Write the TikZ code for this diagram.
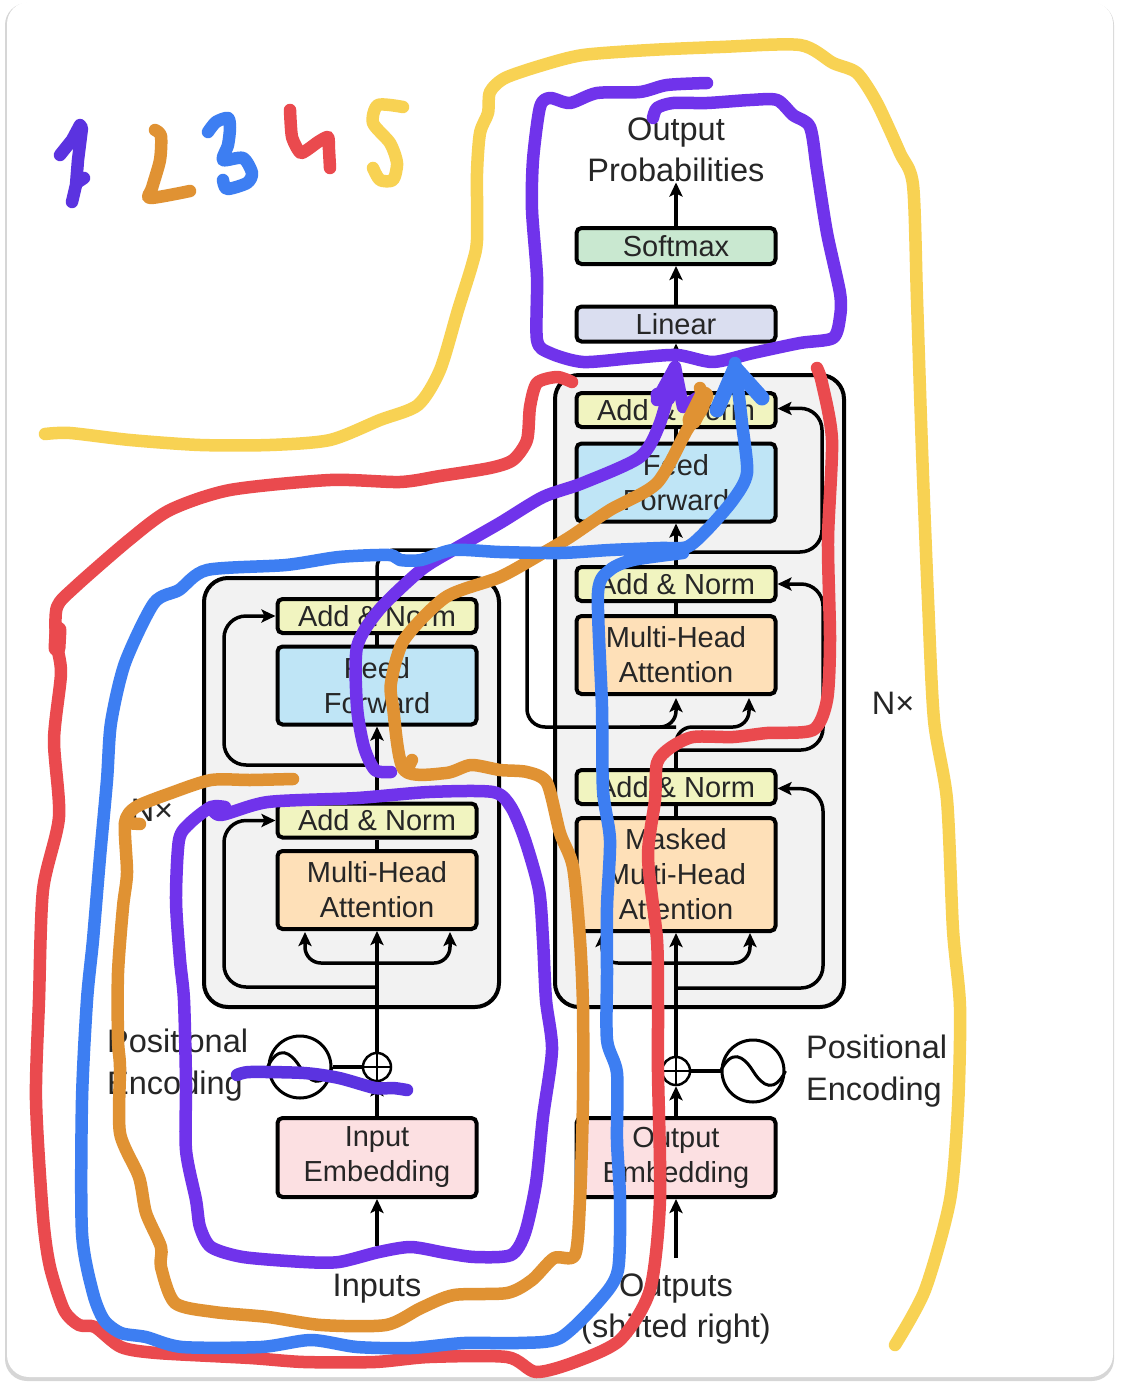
\documentclass[tikz,border=0pt]{standalone}
\usepackage{fontspec}
\setmainfont{Liberation Sans}
\usetikzlibrary{arrows.meta,positioning}
\definecolor{penviolet}{HTML}{7033EB}
\definecolor{penindigo}{HTML}{5B33E0}
\definecolor{penorange}{HTML}{E09233}
\definecolor{penblue}{HTML}{3D7EF2}
\definecolor{penred}{HTML}{EA4A4E}
\definecolor{penyellow}{HTML}{F8D253}
\begin{document}
\begin{tikzpicture}[x=1pt,y=-1pt]
\tikzset{
  layerbox/.style={rectangle,draw=black,line width=4pt,rounded corners=5pt,minimum width=199pt,inner sep=0pt,align=center,text=black!85,font=\fontsize{29}{35}\selectfont},
  addnorm/.style={layerbox,fill={rgb,255:red,241;green,244;blue,192},minimum height=34pt},
  feedbox/.style={layerbox,fill={rgb,255:red,191;green,229;blue,246},minimum height=78pt},
  attnbox/.style={layerbox,fill={rgb,255:red,254;green,224;blue,184},minimum height=78pt},
  embedbox/.style={layerbox,fill={rgb,255:red,252;green,224;blue,226},minimum height=79pt},
  softbox/.style={layerbox,fill={rgb,255:red,201;green,232;blue,208},minimum height=36pt},
  linearbox/.style={layerbox,fill={rgb,255:red,218;green,222;blue,240},minimum height=35pt},
  blockbox/.style={rectangle,draw=black,line width=4pt,rounded corners=24pt,fill={rgb,255:red,242;green,242;blue,242},inner sep=0pt},
  plusnode/.style={circle,draw=black,fill=white,line width=2.5pt,minimum size=28pt,inner sep=0pt},
  sinenode/.style={circle,draw=black,fill=white,line width=3pt,minimum size=62pt,inner sep=0pt},
  plainlabel/.style={inner sep=0pt,align=center,text=black!85,font=\fontsize{32.5}{41.5}\selectfont},
  flow/.style={draw=black,line width=3.5pt,line join=round,-{Stealth[length=14pt,width=13pt,inset=3pt]}},
  wire/.style={draw=black,line width=3.5pt,line join=round},
  pen/.style={line width=12.5pt,line cap=round,line join=round}
}
\useasboundingbox (0,0) rectangle (1120,1386);
\fill[black!16,rounded corners=22pt] (5,3) rectangle (1114,1381);
\fill[white,rounded corners=22pt] (7,2) rectangle (1113,1377);
\node[blockbox,minimum width=295pt,minimum height=429pt] (n_enc_block) at (351.5,792.5) {};
\node[blockbox,minimum width=289pt,minimum height=632pt] (n_dec_block) at (699.5,691) {};
\node[linearbox] (n_linear) at (676,324) {Linear};
\node[softbox] (n_softmax) at (676,246) {Softmax};
\node[plainlabel] (n_probs) at (676,150) {Output\\Probabilities};
\node[addnorm] (n_dec_add3) at (676,410) {Add \& Norm};
\node[feedbox] (n_dec_ff) at (676,482.5) {Feed\\Forward};
\node[addnorm] (n_dec_add2) at (676,584) {Add \& Norm};
\node[attnbox] (n_dec_attn) at (676,655) {Multi-Head\\Attention};
\node[addnorm] (n_dec_add1) at (676,787) {Add \& Norm};
\node[attnbox,minimum height=113pt] (n_dec_mask) at (676,874.5) {Masked\\Multi-Head\\Attention};
\node[embedbox] (n_dec_embed) at (676,1157.5) {Output\\Embedding};
\node[plusnode] (n_dec_plus) at (676,1071) {};
\node[sinenode] (n_dec_sine) at (753,1071) {};
\node[plainlabel,anchor=west,align=left] (n_dec_pos) at (806,1071) {Positional\\Encoding};
\node[plainlabel] (n_dec_nx) at (893,703) {N×};
\node[plainlabel] (n_outputs) at (676,1309) {Outputs\\(shifted right)};
\node[addnorm] (n_enc_add2) at (377,616) {Add \& Norm};
\node[feedbox] (n_enc_ff) at (377,685.5) {Feed\\Forward};
\node[addnorm] (n_enc_add1) at (377,820.5) {Add \& Norm};
\node[attnbox] (n_enc_attn) at (377,890) {Multi-Head\\Attention};
\node[embedbox] (n_enc_embed) at (377,1157.5) {Input\\Embedding};
\node[plusnode] (n_enc_plus) at (377,1067) {};
\node[sinenode] (n_enc_sine) at (300,1067) {};
\node[plainlabel,anchor=west,align=left] (n_enc_pos) at (107,1065) {Positional\\Encoding};
\node[plainlabel] (n_enc_nx) at (152,810) {N×};
\node[plainlabel] (n_inputs) at (377,1289) {Inputs};
\coordinate (c_in_start) at (377,1246);
\coordinate (c_out_start) at (676,1258);
\coordinate (c_enc_split) at (377,963);
\coordinate (c_enc_skip1) at (377,987);
\coordinate (c_enc_skip2) at (377,765);
\coordinate (c_enc_key) at (305,932);
\coordinate (c_enc_query) at (450,932);
\coordinate (c_dec_split) at (676,963);
\coordinate (c_dec_skip1) at (676,988);
\coordinate (c_dec_skip2) at (676,750);
\coordinate (c_dec_skip3) at (676,552);
\coordinate (c_dec_key) at (602,933);
\coordinate (c_dec_query) at (750,933);
\coordinate (c_mem_top) at (377,550);
\coordinate (c_mem_tip) at (676,698);
\coordinate (c_out_tip) at (749,698);
\draw[flow] (c_in_start) -- (n_enc_embed);
\draw[flow] (n_enc_embed) -- (n_enc_plus);
\draw[wire] (n_enc_sine) -- (n_enc_plus);
\draw[flow] (n_enc_plus) -- (n_enc_attn);
\draw[flow,rounded corners=16pt] (c_enc_split) -- (305,963) -- (c_enc_key);
\draw[flow,rounded corners=16pt] (c_enc_split) -- (450,963) -- (c_enc_query);
\draw[flow,rounded corners=22pt] (c_enc_skip1) -- (224,987) -- (224,820.5) -- (n_enc_add1);
\draw[wire] (n_enc_attn) -- (n_enc_add1);
\draw[flow] (n_enc_add1) -- (n_enc_ff);
\draw[flow,rounded corners=22pt] (c_enc_skip2) -- (224,765) -- (224,616) -- (n_enc_add2);
\draw[wire] (n_enc_ff) -- (n_enc_add2);
\draw[wire,rounded corners=18pt] (n_enc_add2) -- (c_mem_top) -- (527,550) -- (527,727) -- (676,727);
\draw[flow,rounded corners=16pt] (640,727) -- (676,727) -- (c_mem_tip);
\draw[flow] (c_out_start) -- (n_dec_embed);
\draw[flow] (n_dec_embed) -- (n_dec_plus);
\draw[wire] (n_dec_sine) -- (n_dec_plus);
\draw[flow] (n_dec_plus) -- (n_dec_mask);
\draw[flow,rounded corners=16pt] (c_dec_split) -- (602,963) -- (c_dec_key);
\draw[flow,rounded corners=16pt] (c_dec_split) -- (750,963) -- (c_dec_query);
\draw[flow,rounded corners=22pt] (c_dec_skip1) -- (823,988) -- (823,789) -- (n_dec_add1);
\draw[wire] (n_dec_mask) -- (n_dec_add1);
\draw[wire] (n_dec_add1) -- (c_dec_skip2);
\draw[flow,rounded corners=22pt] (c_dec_skip2) -- (823,750) -- (823,584) -- (n_dec_add2);
\draw[flow,rounded corners=16pt] (c_dec_skip2) -- (676,727) -- (749,727) -- (c_out_tip);
\draw[wire] (n_dec_attn) -- (n_dec_add2);
\draw[flow] (n_dec_add2) -- (n_dec_ff);
\draw[flow,rounded corners=22pt] (c_dec_skip3) -- (822,552) -- (822,408) -- (n_dec_add3);
\draw[wire] (n_dec_ff) -- (n_dec_add3);
\draw[flow] (n_dec_add3) -- (n_linear);
\draw[flow] (n_linear) -- (n_softmax);
\draw[flow] (n_softmax) -- (n_probs);
\draw[line width=2.5pt] (n_enc_plus.west) -- (n_enc_plus.east) (n_enc_plus.north) -- (n_enc_plus.south);
\draw[line width=2.5pt] (n_dec_plus.west) -- (n_dec_plus.east) (n_dec_plus.north) -- (n_dec_plus.south);
\draw[line width=3pt] (n_enc_sine.west) .. controls +(11,-22) and +(-10,-16) .. (n_enc_sine.center) .. controls +(10,16) and +(-11,22) .. (n_enc_sine.east);
\draw[line width=3pt] (n_dec_sine.west) .. controls +(11,-22) and +(-10,-16) .. (n_dec_sine.center) .. controls +(10,16) and +(-11,22) .. (n_dec_sine.east);
\draw[pen,penyellow] plot[smooth,tension=0.45] coordinates {(45,434) (70,433) (130,440) (200,445) (270,445) (330,440) (380,420) (418,405) (440,370) (458,310) (472,265) (477,240) (477,173) (480,133) (488,113) (490,92) (505,78) (543,65) (583,55) (650,50) (720,47) (800,45) (833,63) (857,73) (877,103) (900,153) (913,185) (917,300) (922,450) (928,600) (934,720) (947,800) (953,930) (960,1007) (958,1107) (950,1200) (925,1290) (895,1345)};
\draw[pen,penred] plot[smooth,tension=0.45] coordinates {(572,382) (557,377) (537,383) (530,407) (527,440) (513,460) (490,468) (440,476) (400,482) (330,480) (230,490) (170,510) (129,540) (75,587) (57,607) (56,640) (61,673) (54,740) (59,817) (43,890) (39,1000) (36,1100) (43,1217) (50,1267) (64,1310) (79,1325) (95,1327) (121,1347) (157,1353) (250,1358) (304,1362) (375,1362) (429,1357) (507,1357) (536,1372) (575,1362) (620,1340) (650,1290) (660,1200) (658,1073) (658,1007) (657,940) (648,857) (655,800) (657,763) (670,748) (693,737) (733,737) (767,733) (813,730) (827,700) (830,640) (828,540) (832,440) (822,383) (817,368)};
\draw[line width=17pt,line cap=round,penred] (58,630) -- (57,648);
\draw[pen,penviolet] plot[smooth,tension=0.45] coordinates {(707,83) (667,85) (640,92) (597,93) (570,103) (550,98) (540,107) (533,160) (532,210) (537,277) (537,340) (550,353) (583,362) (633,358) (677,355) (713,362) (753,353) (800,343) (833,338) (840,317) (840,293) (827,233) (817,170) (810,127) (793,115) (777,100) (750,100) (707,103) (673,103) (657,108) (653,118)};
\draw[pen,penviolet] plot[smooth,tension=0.45] coordinates {(391,772) (375,770) (364,747) (357,707) (357,647) (379,610) (421,570) (453,550) (500,523) (543,497) (583,483) (640,457) (660,423) (675,367)};
\draw[pen,penviolet] (657,400) -- (675,367) -- (683,407) -- (697,398);
\draw[line width=15pt,line cap=round,penviolet] (658,395) -- (668,398);
\draw[pen,penviolet] plot[smooth,tension=0.45] coordinates {(225,807) (211,807) (190,823) (179,840) (176,900) (180,960) (184,1000) (186,1083) (186,1150) (196,1200) (200,1227) (211,1247) (243,1257) (304,1262) (339,1262) (379,1252) (411,1247) (446,1253) (475,1257) (511,1255) (525,1233) (536,1183) (543,1117) (552,1050) (546,1000) (543,940) (539,890) (525,840) (511,807) (493,792) (429,792) (357,798) (268,802) (221,815) (211,807)};
\draw[pen,penindigo] plot[smooth,tension=0.45] coordinates {(237,1075) (250,1072) (304,1073) (339,1078) (375,1088) (393,1088) (407,1090)};
\draw[pen,penorange] plot[smooth,tension=0.45] coordinates {(293,779) (250,780) (211,780) (171,793) (136,807) (125,823) (127,873) (123,907) (118,973) (118,1040) (120,1067) (120,1133) (139,1177) (146,1213) (161,1247) (161,1267) (175,1303) (214,1312) (268,1317) (321,1325) (386,1325) (421,1308) (454,1295) (507,1293) (532,1280) (554,1258) (575,1255) (580,1200) (583,1100) (583,1007) (580,940) (573,867) (560,833) (547,783) (527,772) (500,770) (471,765) (446,773) (404,770) (393,707) (391,683) (404,640) (446,597) (500,577) (543,553) (570,537) (610,510) (657,483) (687,430) (703,407) (700,388)};
\draw[line width=19pt,line cap=round,penorange] (692,420) -- (704,396);
\draw[pen,penorange] (408,768) -- (412,760);
\draw[pen,penorange] (125,823) -- (140,824);
\draw[pen,penblue] plot[smooth,tension=0.45] coordinates {(735,363) (742,423) (747,473) (733,500) (707,530) (687,547) (660,548) (610,550) (560,553) (500,552) (453,550) (421,560) (400,560) (389,555) (339,557) (286,565) (207,570) (179,590) (154,603) (125,663) (111,723) (107,780) (100,857) (93,940) (87,1000) (82,1100) (82,1233) (93,1293) (104,1320) (121,1333) (146,1337) (182,1347) (261,1347) (311,1340) (357,1347) (411,1348) (464,1343) (518,1343) (560,1338) (600,1300) (618,1270) (620,1200) (617,1140) (617,1073) (607,1040) (607,973) (607,907) (610,840) (603,790) (602,707) (598,593) (610,570) (633,560) (683,553)};
\draw[pen,penblue,line width=15pt] (717,410) -- (735,368) -- (762,398);
\draw[pen,penindigo] (60,155) -- (72,140) -- (80,125) -- (82,128) -- (78,160) -- (76,185) -- (72,202);
\draw[pen,penindigo] (84,178) -- (78,182);
\draw[pen,penorange] plot[smooth,tension=0.45] coordinates {(155,130) (161,136) (160,160) (152,188) (150,198) (190,191)};
\draw[pen,penblue] plot[smooth,tension=0.45] coordinates {(208,132) (216,122) (228,118) (230,128) (228,145) (223,160) (243,158) (252,173) (247,183) (227,189) (223,180)};
\draw[pen,penred] plot[smooth,tension=0.35] coordinates {(290,110) (292,137) (301,153) (318,142) (328,137) (329,150) (330,168)};
\draw[pen,penyellow] plot[smooth,tension=0.45] coordinates {(403,107) (378,105) (373,123) (390,143) (397,163) (393,180) (380,180) (373,168)};
\end{tikzpicture}
\end{document}
